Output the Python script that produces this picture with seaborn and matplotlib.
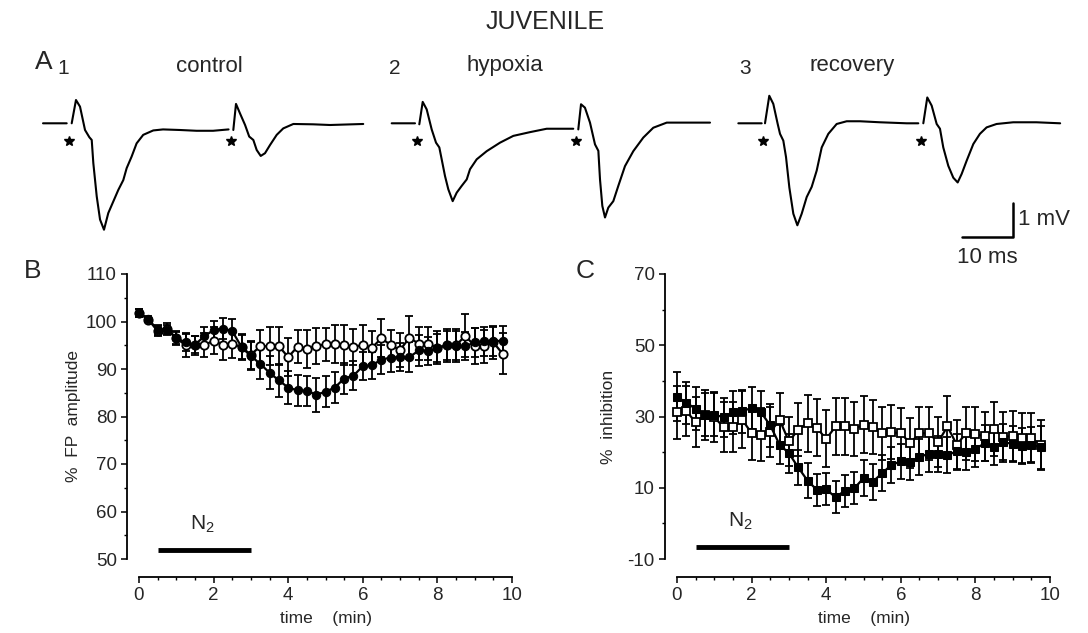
import numpy as np
import pandas as pd
import matplotlib
matplotlib.use("Agg")
import matplotlib.pyplot as plt
from matplotlib.ticker import MultipleLocator
import seaborn as sns

nan = np.nan

# ---- panel A: field potential sweeps (ms, mV; relative to first stimulus) ----
control_t = [-5.56, -0.97, nan, 0, 0.83, 1.61, 2.58, 3.42, 3.88, 4.19, 4.85, 5.49, 6.26, 7.09, 8.06, 9.03,
             10.0, 10.65, 11.61, 12.58, 13.86, 15.8, 17.7, 20.99, 24.2, 27.4, 30.4, nan,
             31.32, 31.84, 32.62, 33.6, 34.4, 35.2, 35.85, 36.63, 37.46, 38.43, 39.73, 41.0, 42.95,
             46.8, 50.06, 56.5]
control_v = [0, 0, nan, 0, 0.685, 0.49, -0.197, -0.41, -0.49, -1.17, -2.15, -2.83, -3.13, -2.64, -2.30, -1.96,
             -1.67, -1.32, -0.98, -0.59, -0.34, -0.21, -0.18, -0.197, -0.22, -0.22, -0.18, nan,
             -0.197, 0.57, 0.29, -0.05, -0.39, -0.49, -0.785, -0.96, -0.88, -0.64, -0.34, -0.15, -0.02,
             -0.03, -0.05, -0.02]
hypoxia_t = [-5.35, -0.83, nan, 0, 0.66, 1.43, 2.40, 3.24, 3.88, 4.34, 4.98, 5.62, 6.47, 7.25, 8.22, 9.19,
             9.83, 11.12, 13.06, 15.64, 18.22, 21.45, 24.69, 29.84, nan,
             30.81, 31.34, 32.1, 33.08, 34.05, 34.7, 35.02, 35.47, 35.99, 36.63, 37.6, 38.57, 39.86,
             41.47, 43.41, 45.35, 47.95, 56.34]
hypoxia_v = [0, 0, nan, -0.03, 0.63, 0.41, -0.18, -0.57, -0.71, -1.06, -1.55, -1.94, -2.29, -2.04, -1.84, -1.65,
             -1.35, -1.06, -0.82, -0.57, -0.37, -0.26, -0.16, -0.16, nan,
             -0.18, 0.56, 0.46, 0.02, -0.62, -0.81, -1.65, -2.43, -2.77, -2.48, -2.29, -1.84, -1.26,
             -0.82, -0.42, -0.13, 0.02, 0.02]
recovery_t = [-5.17, -0.64, nan, 0, 0.83, 1.61, 2.46, 2.91, 3.55, 4.07, 4.72, 5.49, 6.27, 7.11, 8.08, 9.05,
              10.02, 10.99, 12.27, 13.89, 15.83, 18.41, 22.29, 27.46, 29.71, nan,
              30.68, 31.45, 32.3, 33.27, 33.91, 34.55, 35.52, 36.49, 37.34, 38.11, 39.08, 40.37, 41.65,
              42.95, 44.88, 48.1, 52.6, 57.2]
recovery_v = [0, 0, nan, 0, 0.81, 0.57, -0.02, -0.31, -0.51, -0.99, -1.89, -2.66, -3.0, -2.66, -2.17, -1.87,
              -1.39, -0.71, -0.31, -0.02, 0.06, 0.06, 0.03, 0, 0, nan,
              0, 0.76, 0.52, -0.02, -0.16, -0.71, -1.25, -1.6, -1.74, -1.49, -1.1, -0.61, -0.31,
              -0.12, -0.02, 0.03, 0.03, 0]
stim_times = {"control": [0, 31.3], "hypoxia": [0, 30.8], "recovery": [0, 30.7]}
sweep_names = ["control", "hypoxia", "recovery"]
sweep_numbers = ["1", "2", "3"]

# ---- panels B and C: time course ----
time_min = [0.0, 0.25, 0.5, 0.75, 1.0, 1.25, 1.5, 1.75, 2.0, 2.25, 2.5, 2.75, 3.0, 3.25, 3.5, 3.75,
            4.0, 4.25, 4.5, 4.75, 5.0, 5.25, 5.5, 5.75, 6.0, 6.25, 6.5, 6.75, 7.0, 7.25, 7.5, 7.75,
            8.0, 8.25, 8.5, 8.75, 9.0, 9.25, 9.5, 9.75]

fp_filled = [101.8, 100.5, 98.2, 98.2, 96.5, 95.6, 95.1, 96.9, 98.2, 98.5, 98.0, 94.6, 92.7, 91.1, 89.2, 87.6,
             86.1, 85.5, 85.4, 84.6, 85.2, 86.1, 88.0, 88.6, 90.6, 90.8, 92.0, 92.4, 92.5, 92.5, 93.9, 93.8,
             94.4, 95.0, 94.9, 94.8, 95.6, 95.8, 95.8, 96.0]
fp_filled_err = [0.8, 0.6, 1.0, 1.0, 1.2, 1.8, 1.8, 2.0, 2.0, 2.2, 2.5, 2.8, 3.0, 3.2, 3.5, 3.5,
                 3.5, 3.2, 3.2, 3.6, 3.3, 3.3, 3.2, 3.0, 3.0, 2.8, 3.0, 3.0, 3.0, 3.2, 3.2, 3.0,
                 3.0, 3.0, 3.0, 3.0, 3.0, 3.0, 3.0, 3.0]
fp_open = [101.8, 100.4, 98.0, 98.5, 96.5, 95.0, 95.0, 95.0, 96.0, 95.0, 95.3, 94.6, 93.0, 94.8, 94.8, 94.8,
           92.5, 94.7, 94.3, 94.8, 95.2, 95.2, 95.0, 94.7, 95.0, 94.5, 96.5, 95.0, 94.0, 96.6, 95.3, 95.3,
           94.5, 95.0, 95.0, 97.0, 94.8, 94.8, 95.6, 93.2]
fp_open_err = [0.8, 0.6, 1.0, 1.2, 1.5, 2.5, 2.0, 2.5, 2.8, 3.2, 3.0, 2.5, 3.0, 3.5, 4.0, 4.0,
               4.0, 3.5, 4.0, 3.8, 3.5, 4.0, 4.2, 3.8, 4.2, 3.5, 4.0, 3.2, 3.5, 4.5, 3.5, 3.5,
               3.5, 3.5, 3.5, 4.5, 3.8, 3.5, 3.5, 4.3]

inh_filled = [35.6, 33.8, 32.2, 30.5, 30.5, 29.8, 31.2, 31.5, 32.4, 31.2, 27.5, 22.1, 19.7, 15.7, 12.0, 9.4,
              9.6, 7.3, 9.2, 9.8, 12.7, 11.7, 14.1, 16.4, 17.4, 17.1, 18.7, 19.5, 19.5, 19.2, 20.2, 19.9,
              20.9, 22.5, 21.5, 22.8, 22.3, 21.8, 22.1, 21.4]
inh_filled_err = [7, 6, 6, 6, 6, 5.5, 6, 6, 6, 6, 6, 5.5, 5.5, 5, 5, 4.5,
                  4.5, 4.5, 4.5, 4.5, 5, 5, 5, 5, 5, 5, 5, 5, 5, 5, 5, 5,
                  5, 5, 5, 5, 5, 5, 5, 6]
inh_open = [31.2, 31.5, 28.4, 30.3, 29.8, 27.0, 27.0, 29.1, 25.3, 24.9, 25.6, 29.1, 23.0, 26.3, 28.1, 26.8,
            23.7, 27.2, 27.2, 26.5, 27.7, 27.0, 25.3, 25.6, 25.3, 22.5, 25.3, 25.3, 22.8, 27.2, 22.1, 25.3,
            25.1, 24.4, 26.5, 24.2, 24.6, 24.0, 24.0, 22.0]
inh_open_err = [7.5, 7, 7, 7, 7, 7, 7, 8, 7.5, 7.5, 7, 7.5, 7, 7.5, 8, 8,
                8, 8, 8, 7.5, 8, 7.5, 7.5, 7.5, 7, 7, 7.5, 7.5, 7, 8.5, 7, 7.5,
                7.5, 7, 7.5, 7, 7, 7, 7, 7]

n2_on, n2_off = 0.5, 3.0

# ---- style ----
sns.set_style("ticks")
plt.rcParams["font.family"] = ["Liberation Sans", "DejaVu Sans"]
plt.rcParams["mathtext.default"] = "regular"
plt.rcParams["axes.unicode_minus"] = False

W, H = 1088, 633
fig = plt.figure(figsize=(W / 100, H / 100), dpi=100)


def px_axes(l, t, r, b):
    return fig.add_axes([l / W, 1 - b / H, (r - l) / W, (b - t) / H])


# panel A (1 ms = 5.16 px, 1 mV = 34 px)
ms_px, mv_px = 5.16, 34.0
axA = px_axes(0, 85, W, 265)
axA.set_xlim(0, W / ms_px)
axA.set_ylim(-(265 - 123.3) / mv_px, (123.3 - 85) / mv_px)
axA.axis("off")
sweep_x0 = [71.7 / ms_px, 419.3 / ms_px, 765 / ms_px]
sweeps = {"control": (control_t, control_v), "hypoxia": (hypoxia_t, hypoxia_v),
          "recovery": (recovery_t, recovery_v)}
for name, x0 in zip(sweep_names, sweep_x0):
    t, v = sweeps[name]
    axA.plot(np.array(t) + x0, v, color="black", lw=1.5)
    st = np.array(stim_times[name]) + x0 - 0.45
    axA.plot(st, [-0.52] * len(st), ls="none", marker="*", ms=7.5, color="black")

# scale bar
sx, sy = 1013.3 / ms_px, (123.3 - 236.7) / mv_px
axA.plot([sx - 10, sx, sx], [sy, sy, sy + 1], color="black", lw=1.8, clip_on=False)
axA.text(sx + 1.0, sy + 0.5, "1 mV", fontsize=16, va="center", ha="left")
axA.text(sx - 5.0, sy - 0.6, "10 ms", fontsize=16, va="center", ha="center")

fig.text(545 / W, 1 - 22 / H, "JUVENILE", fontsize=18, ha="center", va="center")
fig.text(44 / W, 1 - 62 / H, "A", fontsize=19, ha="center", va="center")
num_x = [63, 395, 745]
name_x = [209, 505, 852]
for n, nm, xn, xm in zip(sweep_numbers, sweep_names, num_x, name_x):
    fig.text(xn / W, 1 - 68 / H, n, fontsize=15, ha="center", va="center")
    fig.text(xm / W, 1 - 66 / H, nm, fontsize=16, ha="center", va="center")
fig.text(33 / W, 1 - 271 / H, "B", fontsize=19, ha="center", va="center")
fig.text(585 / W, 1 - 271 / H, "C", fontsize=19, ha="center", va="center")


def time_course(ax, filled, filled_err, opened, opened_err, marker, ylim, ymaj, ymin_, yoff, ylabel,
                lpad, n2_y, n2_text_y):
    df = pd.DataFrame({"time": time_min, "filled": filled, "open": opened})
    ax.errorbar(time_min, filled, yerr=filled_err, fmt="none", ecolor="black", elinewidth=1.3,
                capsize=3, capthick=1.3, clip_on=False)
    ax.errorbar(time_min, opened, yerr=opened_err, fmt="none", ecolor="black", elinewidth=1.3,
                capsize=3, capthick=1.3, clip_on=False)
    sns.lineplot(data=df, x="time", y="open", ax=ax, color="black", lw=1.6, marker=marker, ms=6,
                 markerfacecolor="white", markeredgecolor="black", markeredgewidth=1.3, clip_on=False)
    sns.lineplot(data=df, x="time", y="filled", ax=ax, color="black", lw=1.6, marker=marker, ms=6,
                 markerfacecolor="black", markeredgecolor="black", clip_on=False)
    ax.set_xlim(0, 10)
    ax.set_ylim(*ylim)
    ax.xaxis.set_major_locator(MultipleLocator(2))
    ax.xaxis.set_minor_locator(MultipleLocator(0.5))
    ax.yaxis.set_major_locator(MultipleLocator(ymaj, offset=yoff))
    ax.yaxis.set_minor_locator(MultipleLocator(ymin_))
    sns.despine(ax=ax)
    ax.spines["left"].set_position(("outward", 9))
    ax.spines["bottom"].set_position(("outward", 13))
    ax.spines["left"].set_bounds(*ylim)
    ax.spines["bottom"].set_bounds(0, 10)
    for s in ("left", "bottom"):
        ax.spines[s].set_linewidth(1.3)
        ax.spines[s].set_color("black")
    ax.tick_params(which="major", length=4, width=1.1, labelsize=13.5, color="black", pad=3)
    ax.tick_params(which="minor", length=2.5, width=1.0, color="black")
    ax.set_xlabel("time    (min)", fontsize=12.5, labelpad=5)
    ax.set_ylabel(ylabel, fontsize=12.5, labelpad=lpad)
    ax.plot([n2_on, n2_off], [n2_y, n2_y], color="black", lw=3.5, solid_capstyle="butt")
    ax.text((n2_on + n2_off) / 2 - 0.05, n2_text_y, "N$_2$", fontsize=15, ha="center", va="center")


axB = px_axes(139, 274, 512, 559)
time_course(axB, fp_filled, fp_filled_err, fp_open, fp_open_err, "o", (50, 110), 10, 5, 0,
            "%  FP  amplitude", 3, 52, 57.2)
axC = px_axes(677, 274, 1050, 559)
time_course(axC, inh_filled, inh_filled_err, inh_open, inh_open_err, "s", (-10, 70), 20, 10, 10,
            "%  inhibition", 8, -6.6, 0.5)

fig.savefig("out.png", dpi=100)
